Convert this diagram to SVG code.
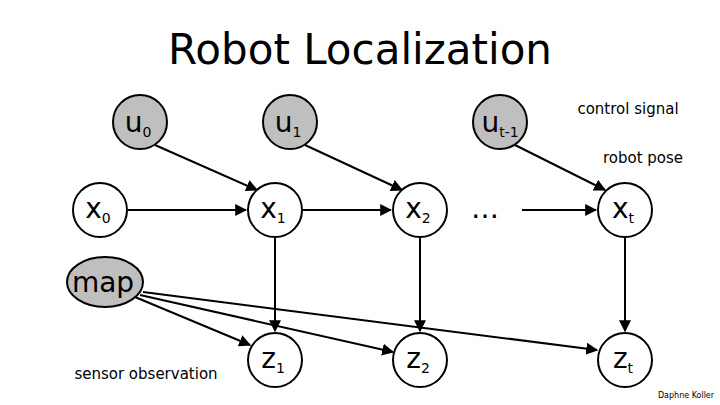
<svg xmlns="http://www.w3.org/2000/svg" width="720" height="405" viewBox="0 0 720 405">
<defs><marker id="ah" viewBox="0 0 10 10" refX="9" refY="5" markerWidth="6" markerHeight="6" orient="auto"><path d="M0,0L10,5L0,10z" fill="#000"/></marker></defs>
<style>
.n{stroke:#000;stroke-width:2}.g{fill:#bfbfbf}.w{fill:#fff}
.t{font-family:"DejaVu Sans",sans-serif;font-size:28px;text-anchor:middle}
.s{font-size:14px}
.l{font-family:"DejaVu Sans",sans-serif;font-size:15px;text-anchor:middle}
#edges line{stroke:#000;stroke-width:2;marker-end:url(#ah)}
</style>
<rect width="720" height="405" fill="#fff"/>
<text x="360" y="64" font-family="DejaVu Sans,sans-serif" font-size="42" text-anchor="middle">Robot Localization</text>
<g id="edges">
<line x1="155" y1="145" x2="257" y2="190"/>
<line x1="305" y1="145" x2="402" y2="190"/>
<line x1="515" y1="145" x2="605" y2="190"/>
<line x1="128" y1="210" x2="246" y2="210"/>
<line x1="303" y1="210" x2="391" y2="210"/>
<line x1="522" y1="210" x2="596" y2="210"/>
<line x1="275" y1="238" x2="275" y2="331"/>
<line x1="420" y1="238" x2="420" y2="331"/>
<line x1="625" y1="238" x2="625" y2="331"/>
<line x1="135" y1="297" x2="250" y2="345"/>
<line x1="140" y1="295" x2="393" y2="352"/>
<line x1="143" y1="292" x2="597" y2="350"/>
</g>
<g id="u0"><circle class="n g" cx="140" cy="122" r="27"/><text class="t" x="138" y="132">u<tspan class="s" dy="5">0</tspan></text></g>
<g id="u1"><circle class="n g" cx="290" cy="122" r="27"/><text class="t" x="288" y="132">u<tspan class="s" dy="5">1</tspan></text></g>
<g id="ut1"><circle class="n g" cx="500" cy="122" r="27"/><text class="t" x="500" y="132">u<tspan class="s" dy="5">t-1</tspan></text></g>
<g id="x0"><circle class="n w" cx="100" cy="210" r="27"/><text class="t" x="98" y="218">x<tspan class="s" dy="5">0</tspan></text></g>
<g id="x1"><circle class="n w" cx="275" cy="210" r="27"/><text class="t" x="273" y="218">x<tspan class="s" dy="5">1</tspan></text></g>
<g id="x2"><circle class="n w" cx="420" cy="210" r="27"/><text class="t" x="418" y="218">x<tspan class="s" dy="5">2</tspan></text></g>
<text class="t" x="485" y="218">…</text>
<g id="xt"><circle class="n w" cx="625" cy="210" r="27"/><text class="t" x="623" y="218">x<tspan class="s" dy="5">t</tspan></text></g>
<g id="map"><ellipse class="n g" cx="105" cy="282" rx="38" ry="25"/><text class="t" x="103" y="292">map</text></g>
<g id="z1"><circle class="n w" cx="275" cy="360" r="27"/><text class="t" x="273" y="368">z<tspan class="s" dy="5">1</tspan></text></g>
<g id="z2"><circle class="n w" cx="420" cy="360" r="27"/><text class="t" x="418" y="368">z<tspan class="s" dy="5">2</tspan></text></g>
<g id="zt"><circle class="n w" cx="625" cy="360" r="27"/><text class="t" x="623" y="368">z<tspan class="s" dy="5">t</tspan></text></g>
<text class="l" x="628" y="114">control signal</text>
<text class="l" x="643" y="163">robot pose</text>
<text class="l" x="146" y="379">sensor observation</text>
<text x="686" y="398" font-family="DejaVu Sans,sans-serif" font-size="8" text-anchor="middle">Daphne Koller</text>
</svg>
